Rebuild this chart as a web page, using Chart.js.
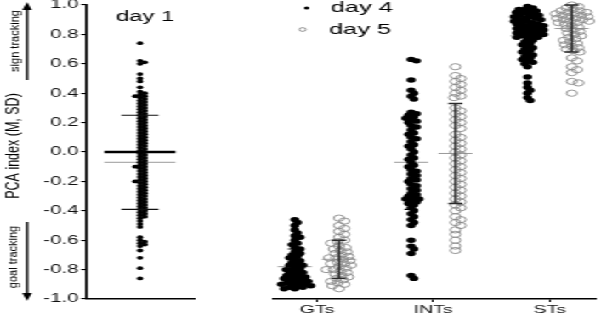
<!DOCTYPE html>
<html><head><meta charset="utf-8">
<script src="https://cdn.jsdelivr.net/npm/chart.js@4.4.1/dist/chart.umd.min.js"></script>
<style>
html,body{margin:0;padding:0;background:#fff;overflow:hidden;width:600px;height:315px;}
#wrap{position:absolute;left:0;top:0;width:353px;height:315px;transform:scaleX(1.7);transform-origin:0 0;}
canvas{position:absolute;top:0;}
</style></head>
<body>
<div id="wrap">
<canvas id="c1" width="118" height="315" style="left:0px"></canvas>
<canvas id="c2" width="236" height="315" style="left:117.65px"></canvas>
</div>
<script>
// ---------- data ----------
const yTickLabels = ['-1.0','-0.8','-0.6','-0.4','-0.2','0.0','0.2','0.4','0.6','0.8','1.0'];
const categories = ['GTs','INTs','STs'];
const seriesNames = ['day 4','day 5'];
const day1Title = 'day 1';

const day1Values = [0.74,0.62,0.61,0.60,0.53,0.50,0.48,0.44,0.41,0.40,0.39,0.38,0.38,0.37,0.36,0.35,0.34,0.33,0.32,0.31,0.30,0.29,0.28,0.27,0.26,0.25,0.24,0.23,0.22,0.21,0.20,0.19,0.18,0.17,0.16,0.15,0.14,0.13,0.12,0.11,0.10,0.09,0.08,0.07,0.06,0.05,0.04,0.03,0.02,0.01,0.00,-0.01,-0.02,-0.03,-0.04,-0.05,-0.06,-0.07,-0.08,-0.09,-0.10,-0.10,-0.11,-0.12,-0.13,-0.14,-0.15,-0.16,-0.17,-0.18,-0.19,-0.20,-0.20,-0.21,-0.22,-0.23,-0.24,-0.25,-0.26,-0.27,-0.28,-0.29,-0.30,-0.31,-0.32,-0.33,-0.34,-0.35,-0.36,-0.37,-0.38,-0.39,-0.40,-0.41,-0.42,-0.43,-0.44,-0.45,-0.47,-0.49,-0.51,-0.58,-0.60,-0.61,-0.62,-0.63,-0.64,-0.67,-0.72,-0.79,-0.86];
const day1Mean = -0.07;
const day1SD = 0.32;
const zeroLine = 0.0;

const gtsDay4 = [-0.46,-0.48,-0.50,-0.53,-0.55,-0.57,-0.58,-0.60,-0.62,-0.63,-0.65,-0.66,-0.68,-0.69,-0.70,-0.71,-0.72,-0.73,-0.74,-0.75,-0.76,-0.77,-0.77,-0.78,-0.79,-0.80,-0.80,-0.81,-0.82,-0.82,-0.83,-0.84,-0.84,-0.85,-0.85,-0.86,-0.86,-0.87,-0.87,-0.88,-0.88,-0.89,-0.89,-0.90,-0.90,-0.90,-0.91,-0.91,-0.92,-0.92,-0.93,-0.93];
const intsDay4 = [0.63,0.62,0.49,0.42,0.40,0.38,0.36,0.27,0.26,0.25,0.24,0.23,0.22,0.21,0.20,0.18,0.17,0.15,0.13,0.12,0.10,0.09,0.07,0.05,0.04,0.02,0.00,-0.02,-0.04,-0.05,-0.07,-0.09,-0.10,-0.12,-0.13,-0.15,-0.16,-0.18,-0.19,-0.20,-0.22,-0.23,-0.25,-0.26,-0.28,-0.29,-0.30,-0.31,-0.32,-0.32,-0.33,-0.34,-0.35,-0.36,-0.38,-0.40,-0.42,-0.44,-0.46,-0.48,-0.50,-0.60,-0.64,-0.66,-0.69,-0.84,-0.86];
const stsDay4 = [0.99,0.98,0.97,0.97,0.96,0.96,0.95,0.95,0.94,0.94,0.93,0.93,0.92,0.92,0.91,0.91,0.90,0.90,0.89,0.89,0.88,0.88,0.87,0.87,0.86,0.86,0.85,0.85,0.84,0.84,0.83,0.83,0.82,0.82,0.81,0.81,0.80,0.80,0.79,0.79,0.78,0.78,0.77,0.76,0.75,0.74,0.73,0.72,0.71,0.70,0.69,0.68,0.67,0.66,0.65,0.64,0.63,0.62,0.61,0.60,0.58,0.51,0.47,0.44,0.42,0.40,0.37,0.35];
const gtsDay5 = [-0.45,-0.47,-0.50,-0.52,-0.54,-0.56,-0.58,-0.60,-0.61,-0.62,-0.64,-0.65,-0.66,-0.67,-0.68,-0.69,-0.70,-0.71,-0.72,-0.72,-0.73,-0.74,-0.75,-0.76,-0.76,-0.77,-0.78,-0.79,-0.80,-0.80,-0.81,-0.82,-0.83,-0.84,-0.85,-0.86,-0.87,-0.88,-0.89,-0.90,-0.91,-0.93];
const intsDay5 = [0.58,0.52,0.50,0.48,0.46,0.44,0.42,0.40,0.38,0.37,0.30,0.28,0.26,0.24,0.22,0.20,0.18,0.16,0.12,0.10,0.08,0.06,0.04,0.02,0.00,-0.02,-0.04,-0.06,-0.08,-0.10,-0.12,-0.14,-0.16,-0.18,-0.20,-0.22,-0.24,-0.26,-0.28,-0.30,-0.32,-0.34,-0.36,-0.38,-0.40,-0.44,-0.46,-0.48,-0.50,-0.53,-0.56,-0.60,-0.64,-0.67];
const stsDay5 = [1.00,0.99,0.98,0.97,0.96,0.96,0.95,0.95,0.94,0.94,0.93,0.93,0.92,0.92,0.91,0.91,0.90,0.90,0.89,0.89,0.88,0.88,0.87,0.86,0.85,0.84,0.83,0.82,0.81,0.80,0.79,0.78,0.77,0.76,0.75,0.74,0.73,0.72,0.71,0.70,0.69,0.68,0.64,0.62,0.58,0.56,0.54,0.48,0.47,0.40];

const day4Mean = [-0.78,-0.07,0.79];
const day4SD   = [0.12,0.32,0.15];
const day5Mean = [-0.73,-0.01,0.84];
const day5SD   = [0.13,0.34,0.16];

// ---------- helpers ----------
const FONT = '"Liberation Sans", Arial, sans-serif';
const day4Groups = [gtsDay4, intsDay4, stsDay4];
const day5Groups = [gtsDay5, intsDay5, stsDay5];
const GROUP_OFFSET = 0.19;

function swarm(chart, values, center, minDist){
  const xs = chart.scales.x, ys = chart.scales.y;
  const cx = xs.getPixelForValue(center);
  const placed = [];
  return values.map(v => {
    const py = ys.getPixelForValue(v);
    let off = 0;
    for (let k = 0; k < 400; k++){
      const o = (k % 2 ? 1 : -1) * Math.ceil(k/2) * 0.4;
      let ok = true;
      for (const p of placed){
        const dx = p[0]-(cx+o), dy = p[1]-py;
        if (dx*dx+dy*dy < minDist*minDist){ ok = false; break; }
      }
      if (ok){ off = o; break; }
    }
    placed.push([cx+off, py]);
    return {x: xs.getValueForPixel(cx+off), y: v};
  });
}

function hLine(ctx, chart, xVal, yVal, halfW, color, lw){
  const x = chart.scales.x.getPixelForValue(xVal), y = chart.scales.y.getPixelForValue(yVal);
  ctx.save(); ctx.strokeStyle = color; ctx.lineWidth = lw;
  ctx.beginPath(); ctx.moveTo(x-halfW, y); ctx.lineTo(x+halfW, y); ctx.stroke(); ctx.restore();
}
function errBar(ctx, chart, xVal, mean, sd, capHalf, color, lw, vertical){
  const xs = chart.scales.x, ys = chart.scales.y;
  const x = xs.getPixelForValue(xVal), y1 = ys.getPixelForValue(mean+sd), y2 = ys.getPixelForValue(mean-sd);
  ctx.save(); ctx.strokeStyle = color; ctx.lineWidth = lw;
  ctx.beginPath();
  if (vertical !== false){ ctx.moveTo(x, y1); ctx.lineTo(x, y2); }
  ctx.moveTo(x-capHalf, y1); ctx.lineTo(x+capHalf, y1);
  ctx.moveTo(x-capHalf, y2); ctx.lineTo(x+capHalf, y2);
  ctx.stroke(); ctx.restore();
}
function vText(ctx, text, x, y, size, squeeze){
  ctx.save(); ctx.translate(x, y); ctx.rotate(-Math.PI/2); ctx.scale(1, squeeze);
  ctx.font = size + 'px ' + FONT; ctx.textAlign = 'center'; ctx.textBaseline = 'middle';
  ctx.fillStyle = '#000'; ctx.fillText(text, 0, 0); ctx.restore();
}
function arrow(ctx, x, yFrom, yTip){
  const dir = yTip < yFrom ? -1 : 1;
  const base = yTip - dir*8;
  ctx.save(); ctx.strokeStyle = '#000'; ctx.fillStyle = '#000'; ctx.lineWidth = 1.4;
  ctx.beginPath(); ctx.moveTo(x, yFrom); ctx.lineTo(x, base); ctx.stroke();
  ctx.beginPath(); ctx.moveTo(x, yTip); ctx.lineTo(x-2.8, base); ctx.lineTo(x+2.8, base); ctx.closePath(); ctx.fill();
  ctx.restore();
}

const yTickValues = yTickLabels.map(parseFloat);

// ---------- left panel (day 1) ----------
const DAY1_X = 0.49;
const leftPlugin = {
  id: 'leftDeco',
  beforeDatasetsDraw(chart){
    const ctx = chart.ctx;
    hLine(ctx, chart, DAY1_X, day1Mean, 20.9, '#9a9a9a', 1);
  },
  afterDatasetsDraw(chart){
    const ctx = chart.ctx;
    errBar(ctx, chart, DAY1_X, day1Mean, day1SD, 10.9, '#111', 1.1, false);
    hLine(ctx, chart, DAY1_X, zeroLine, 20.9, '#000', 2.4);
    ctx.save();
    ctx.font = '14px ' + FONT; ctx.fillStyle = '#000'; ctx.textAlign = 'center'; ctx.textBaseline = 'middle';
    ctx.fillText(day1Title, 85.3, 17);
    ctx.restore();
    vText(ctx, 'PCA index (M, SD)', 7.8, 146, 12.5, 0.85);
    vText(ctx, 'sign tracking', 9.2, 41, 11, 0.72);
    vText(ctx, 'goal tracking', 7.8, 257, 11, 0.72);
    arrow(ctx, 15.9, 80, 2);
    arrow(ctx, 15.9, 222, 301);
  }
};

const chart1 = new Chart(document.getElementById('c1'), {
  type: 'scatter',
  data: { datasets: [{
    data: day1Values.map(v => ({x: DAY1_X, y: v})),
    pointRadius: 1.9, pointHoverRadius: 1.9, backgroundColor: '#000', borderWidth: 0, clip: false
  }]},
  options: {
    responsive: false, maintainAspectRatio: false, animation: false, events: [],
    layout: { padding: { left: 0, right: 3.3, top: 5, bottom: 0 } },
    plugins: { legend: { display: false }, tooltip: { enabled: false } },
    scales: {
      x: { type: 'linear', min: 0, max: 1,
           border: { color: '#000', width: 1.5 }, grid: { display: false }, ticks: { display: false },
           afterFit(s){ s.height = 16; s.paddingLeft = 0; s.paddingRight = 0; } },
      y: { type: 'linear', min: -1, max: 1,
           afterBuildTicks(s){ s.ticks = yTickValues.map(v => ({value: v})); },
           ticks: { callback: (v, i) => yTickLabels[i], color: '#111', font: { size: 12, family: FONT }, padding: 1.5, autoSkip: false },
           border: { color: '#000', width: 1.6 },
           grid: { drawOnChartArea: false, drawTicks: true, tickLength: 3.5, color: '#000', lineWidth: 1.1 },
           afterFit(s){ s.width = 51.2; s.paddingTop = 0; s.paddingBottom = 0; } }
    }
  },
  plugins: [leftPlugin]
});
chart1.data.datasets[0].data = swarm(chart1, day1Values, DAY1_X, 2.9);
chart1.update('none');

// ---------- right panel (day 4 / day 5) ----------
const rightPlugin = {
  id: 'rightDeco',
  beforeDatasetsDraw(chart){
    const ctx = chart.ctx;
    categories.forEach((c, i) => {
      hLine(ctx, chart, i - GROUP_OFFSET, day4Mean[i], 10, '#9a9a9a', 1);
      hLine(ctx, chart, i + GROUP_OFFSET, day5Mean[i], 10, '#9a9a9a', 1);
    });
  },
  afterDatasetsDraw(chart){
    const ctx = chart.ctx;
    categories.forEach((c, i) => {
      errBar(ctx, chart, i - GROUP_OFFSET, day4Mean[i], day4SD[i], 4, '#000', 1.2);
      errBar(ctx, chart, i + GROUP_OFFSET, day5Mean[i], day5SD[i], 4.2, '#2a2a2a', 1.4);
    });
    // legend
    ctx.save();
    ctx.fillStyle = '#000';
    ctx.beginPath(); ctx.arc(62.4, 8, 1.6, 0, Math.PI*2); ctx.fill();
    ctx.strokeStyle = '#8a8a8a'; ctx.lineWidth = 0.9;
    ctx.beginPath(); ctx.arc(60, 29.5, 1.9, 0, Math.PI*2); ctx.stroke();
    ctx.font = '15px ' + FONT; ctx.fillStyle = '#000'; ctx.textAlign = 'left'; ctx.textBaseline = 'middle';
    ctx.fillText(seriesNames[0], 76.5, 8);
    ctx.fillText(seriesNames[1], 75.5, 30);
    ctx.restore();
  }
};

const chart2 = new Chart(document.getElementById('c2'), {
  type: 'scatter',
  data: { datasets: [
    { label: seriesNames[0], data: [], pointRadius: 2.7, pointHoverRadius: 2.7, backgroundColor: '#000', borderWidth: 0, clip: false },
    { label: seriesNames[1], data: [], pointRadius: 3.1, pointHoverRadius: 3.1, backgroundColor: 'rgba(255,255,255,0)', borderColor: '#8a8a8a', borderWidth: 0.9, clip: false }
  ]},
  options: {
    responsive: false, maintainAspectRatio: false, animation: false, events: [],
    layout: { padding: { left: 42.4, right: 0, top: 5, bottom: 0 } },
    plugins: { legend: { display: false }, tooltip: { enabled: false } },
    scales: {
      x: { type: 'linear', min: -0.38, max: 2.39,
           afterBuildTicks(s){ s.ticks = categories.map((c, i) => ({value: i})); },
           ticks: { callback: (v, i) => categories[i], color: '#111', font: { size: 11.5, family: FONT }, padding: 1, autoSkip: false, maxRotation: 0 },
           border: { color: '#000', width: 1.5 },
           grid: { drawOnChartArea: false, drawTicks: true, tickLength: 3, color: '#000', lineWidth: 1 },
           afterFit(s){ s.height = 16; s.paddingLeft = 0; s.paddingRight = 0; } },
      y: { type: 'linear', min: -1, max: 1, display: false }
    }
  },
  plugins: [rightPlugin]
});
let d4 = [], d5 = [];
categories.forEach((c, i) => {
  d4 = d4.concat(swarm(chart2, day4Groups[i], i - GROUP_OFFSET, 3.3));
  d5 = d5.concat(swarm(chart2, day5Groups[i], i + GROUP_OFFSET, 4.2));
});
chart2.data.datasets[0].data = d4;
chart2.data.datasets[1].data = d5;
chart2.update('none');
</script>
</body></html>
